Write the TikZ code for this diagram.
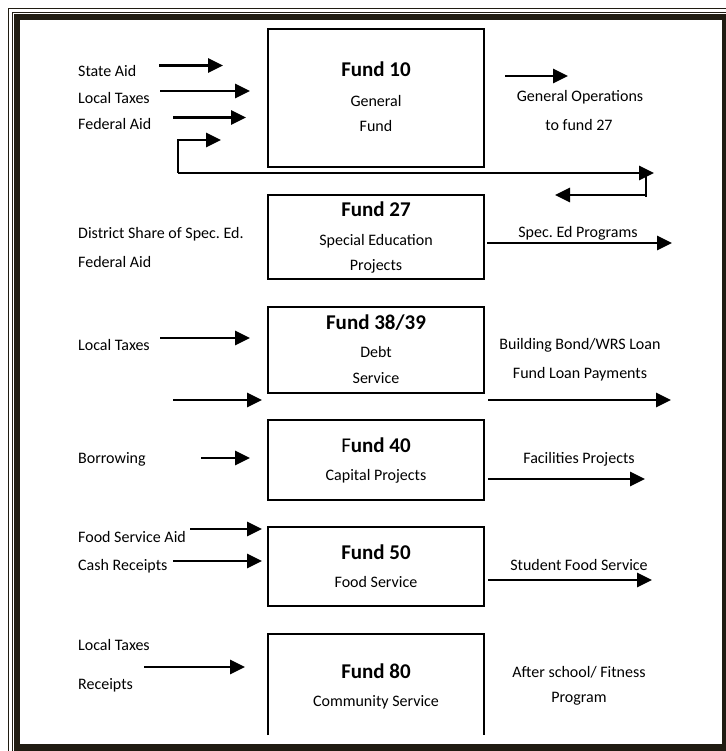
\documentclass[tikz,border=0pt]{standalone}
\usepackage{fontspec}
\setmainfont{Carlito}
\usetikzlibrary{arrows.meta}
\definecolor{framec}{RGB}{32,28,18}
\frenchspacing
\begin{document}
\begin{tikzpicture}[x=1pt,y=-1pt,
  lbl/.style={font=\fontsize{16}{19}\selectfont, inner sep=0pt, anchor=base},
  lbll/.style={lbl, anchor=base west},
  ttl/.style={font=\fontsize{21}{25}\selectfont\bfseries, inner sep=0pt, anchor=base},
  fundbox/.style={draw, line width=1.9pt, minimum width=216pt, inner sep=0pt},
  openbox/.style={minimum width=216pt, inner sep=0pt},
  arr/.style={line width=2.9pt, -{Triangle[length=15pt,width=14pt]}},
  ln/.style={line width=2.2pt}
]
\useasboundingbox (0,0) rectangle (725,751);
\fill[white] (0,0) rectangle (725,751);
% frame
\draw[line width=1.2pt, framec] (8.3,8.3) rectangle (760,780);
\draw[line width=8pt, framec] (16.3,16.3) rectangle (726,748);
\draw[line width=0.9pt, white] (13.9,770) -- (13.9,13.9) -- (770,13.9);

% boxes
\node (f10) [fundbox, minimum height=138pt] at (376,98) {};
\node (f27) [fundbox, minimum height=84pt] at (376,237) {};
\node (f38) [fundbox, minimum height=86pt] at (376,350) {};
\node (f40) [fundbox, minimum height=80pt] at (376,460) {};
\node (f50) [fundbox, minimum height=79pt] at (376,566.5) {};
\node (f80) [openbox, minimum height=101pt] at (376,684.5) {};
\draw[line width=1.9pt] (f80.south west) -- (f80.north west) -- (f80.north east) -- (f80.south east);

% box texts
\node (t10a) [ttl] at (376,77) {Fund 10};
\node (t10b) [lbl] at (376,107) {General};
\node (t10c) [lbl] at (376,132) {Fund};
\node (t27a) [ttl] at (376,216) {Fund 27};
\node (t27b) [lbl] at (376,245) {Special Education};
\node (t27c) [lbl] at (376,270) {Projects};
\node (t38a) [ttl] at (376,329) {Fund 38/39};
\node (t38b) [lbl] at (376,357) {Debt};
\node (t38c) [lbl] at (376,383) {Service};
\node (t40a) [ttl] at (376,452) {{\mdseries F}und 40};
\node (t40b) [lbl] at (376,480) {Capital Projects};
\node (t50a) [ttl] at (376,559) {Fund 50};
\node (t50b) [lbl] at (376,587) {Food Service};
\node (t80a) [ttl] at (376,678) {Fund 80};
\node (t80b) [lbl] at (376,706) {Community Service};

% left labels
\node (l1) [lbll] at (78,77) {State Aid};
\node (l2) [lbll] at (78,104) {Local Taxes};
\node (l3) [lbll] at (78,130) {Federal Aid};
\node (l4) [lbll] at (78,238) {District Share of Spec. Ed.};
\node (l5) [lbll] at (78,267) {Federal Aid};
\node (l6) [lbll] at (78,350) {Local Taxes};
\node (l7) [lbll] at (78,463) {Borrowing};
\node (l8) [lbll] at (78,542) {Food Service Aid};
\node (l9) [lbll] at (78,570) {Cash Receipts};
\node (l10) [lbll] at (78,650) {Local Taxes};
\node (l11) [lbll] at (78,689) {Receipts};

% right labels
\node (r1) [lbl] at (580,102) {General Operations};
\node (r2) [lbl] at (579,131) {to fund 27};
\node (r3) [lbl] at (578,237) {Spec. Ed Programs};
\node (r4) [lbl] at (580,349) {Building Bond/WRS Loan};
\node (r5) [lbl] at (580,378) {Fund Loan Payments};
\node (r6) [lbl] at (579,463) {Facilities Projects};
\node (r7) [lbl] at (579,570) {Student Food Service};
\node (r8) [lbl] at (579,677) {After school/ Fitness};
\node (r9) [lbl] at (579,702) {Program};

% arrow end points
\coordinate (a1s) at (159,65.5);  \coordinate (a1e) at (223,65.5);
\coordinate (a2s) at (160,91);    \coordinate (a2e) at (250,91);
\coordinate (a3s) at (173,117.5); \coordinate (a3e) at (246,117.5);
\coordinate (lpc) at (178,173);   \coordinate (lpe) at (221,140);
\coordinate (lpr) at (654,173);   \coordinate (lvt) at (646,173);
\coordinate (lvb) at (646,197);   \coordinate (lve) at (555,195);
\coordinate (g1s) at (505,76);    \coordinate (g1e) at (568,76);
\coordinate (s1s) at (487,243);   \coordinate (s1e) at (672,243);
\coordinate (d1s) at (160,338);   \coordinate (d1e) at (250,338);
\coordinate (d2s) at (173,400);   \coordinate (d2e) at (262,400);
\coordinate (d3s) at (488,400);   \coordinate (d3e) at (671,400);
\coordinate (b1s) at (201,458);   \coordinate (b1e) at (250,458);
\coordinate (b2s) at (488,479);   \coordinate (b2e) at (645,479);
\coordinate (c1s) at (190,529);   \coordinate (c1e) at (262,529);
\coordinate (c2s) at (173,561);   \coordinate (c2e) at (262,561);
\coordinate (c3s) at (488,580);   \coordinate (c3e) at (652,580);
\coordinate (e1s) at (144,667);   \coordinate (e1e) at (245,667);

% arrows
\draw[arr] (a1s) -- (a1e);
\draw[arr] (a2s) -- (a2e);
\draw[arr] (a3s) -- (a3e);
\draw[arr] (lpc) |- (lpe);
\draw[arr] (lpc) -- (lpr);
\draw[ln] (lvt) -- (lvb);
\draw[arr] (lvt |- lve) -- (lve);
\draw[arr] (g1s) -- (g1e);
\draw[arr] (s1s) -- (s1e);
\draw[arr] (d1s) -- (d1e);
\draw[arr] (d2s) -- (d2e);
\draw[arr] (d3s) -- (d3e);
\draw[arr] (b1s) -- (b1e);
\draw[arr] (b2s) -- (b2e);
\draw[arr] (c1s) -- (c1e);
\draw[arr] (c2s) -- (c2e);
\draw[arr] (c3s) -- (c3e);
\draw[arr] (e1s) -- (e1e);
\end{tikzpicture}
\end{document}
